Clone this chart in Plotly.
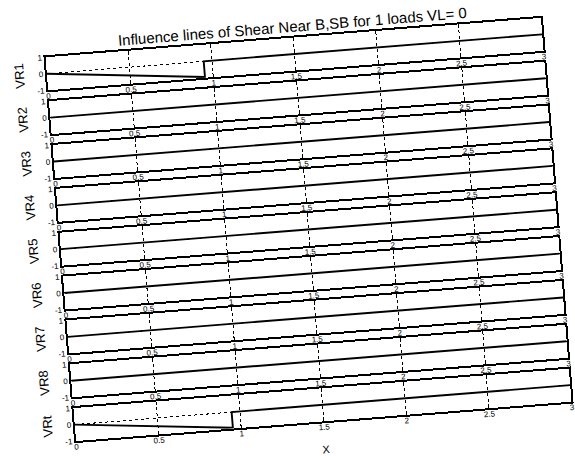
import plotly.graph_objects as go
from plotly.subplots import make_subplots

# Load position along the beam and the shear influence ordinates per reaction
x_pos = [0, 0.95, 0.95, 3]
VR1 = [0, -0.95, 0, 0]
VR2 = [0, 0, 0, 0]
VR3 = [0, 0, 0, 0]
VR4 = [0, 0, 0, 0]
VR5 = [0, 0, 0, 0]
VR6 = [0, 0, 0, 0]
VR7 = [0, 0, 0, 0]
VR8 = [0, 0, 0, 0]
VRt = [0, -0.95, 0, 0]

series_names = ["VR1", "VR2", "VR3", "VR4", "VR5", "VR6", "VR7", "VR8", "VRt"]
series_vals = [VR1, VR2, VR3, VR4, VR5, VR6, VR7, VR8, VRt]
x_ticks = [0, 0.5, 1, 1.5, 2, 2.5, 3]
x_tick_text = ["0", "0.5", "1", "1.5", "2", "2.5", "3"]
y_ticks = [-1, 0, 1]
y_tick_text = ["-1", "0", "1"]

title_text = "Influence lines of Shear Near B,SB for 1 loads VL= 0"
FONT = "Liberation Sans, Arial, Helvetica, sans-serif"

n = len(series_names)
fig = make_subplots(rows=n, cols=1, vertical_spacing=0.0283)

for i, (name, vals) in enumerate(zip(series_names, series_vals), start=1):
    fig.add_trace(
        go.Scatter(x=x_pos, y=vals, mode="lines", name=name,
                   line=dict(color="black", width=1.9), showlegend=False,
                   hoverinfo="skip"),
        row=i, col=1,
    )
    fig.update_xaxes(
        range=[0, 3], tickvals=x_ticks, ticktext=x_tick_text,
        showline=True, linecolor="black", linewidth=1.9, mirror="ticks",
        ticks="inside", ticklen=4, tickwidth=1.4, tickcolor="black",
        showgrid=True, gridcolor="black", gridwidth=1.2, griddash="3px,3px",
        zeroline=False, ticklabelstandoff=-3,
        tickfont=dict(family=FONT, size=8, color="black"),
        row=i, col=1,
    )
    fig.update_yaxes(
        range=[-1, 1], tickvals=y_ticks, ticktext=y_tick_text,
        showline=True, linecolor="black", linewidth=1.9, mirror="ticks",
        ticks="inside", ticklen=4, tickwidth=1.4, tickcolor="black",
        showgrid=True, gridcolor="black", gridwidth=1.2, griddash="3px,3px",
        zeroline=False, tickfont=dict(family=FONT, size=8, color="black"),
        row=i, col=1,
    )
    yref = "y domain" if i == 1 else f"y{i} domain"
    fig.add_annotation(
        text=name, textangle=-90, showarrow=False,
        xref="paper", x=-0.055, xanchor="center",
        yref=yref, y=0.5, yanchor="middle",
        font=dict(family=FONT, size=13, color="black"),
    )

fig.add_annotation(
    text="X", showarrow=False, xref="paper", x=0.5, xanchor="center",
    yref="paper", y=-0.072, yanchor="middle",
    font=dict(family=FONT, size=11, color="black"),
)

fig.update_layout(
    width=575, height=456, autosize=False,
    margin=dict(l=60, r=18, t=37, b=34),
    paper_bgcolor="white", plot_bgcolor="white",
    title=dict(text=title_text, x=0.5, xref="paper", xanchor="center",
               y=1 - 26 / 456, yanchor="middle",
               font=dict(family=FONT, size=15, color="black")),
    font=dict(family=FONT, color="black"),
)

# The printed sheet sits slightly tilted; turn the figure about the plot centre
tilt = (
    "document.body.style.margin='0';"
    "var gd=document.getElementById('{plot_id}');"
    "gd.style.transformOrigin='308px 229.5px';"
    "gd.style.transform='rotate(-4.55deg)';"
)
fig.write_html("out.html", post_script=tilt)
